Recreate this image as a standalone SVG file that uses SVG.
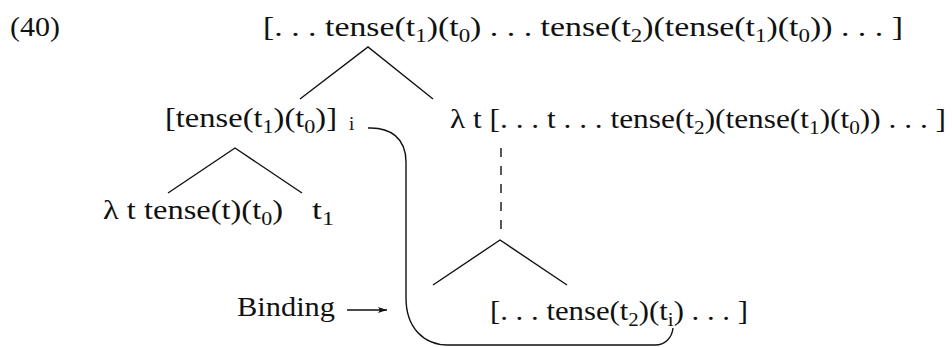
<svg xmlns="http://www.w3.org/2000/svg" width="952" height="347" viewBox="0 0 952 347">
<style>
text{font-family:"Liberation Serif","DejaVu Serif",serif;font-size:28px;fill:#111}
.sub{font-size:19px}
.edge{stroke:#111;stroke-width:1.4;fill:none}
.dash{stroke-dasharray:9 9}
</style>
<defs>
<marker id="ah" markerWidth="10" markerHeight="8" refX="9" refY="4" orient="auto" markerUnits="userSpaceOnUse">
<path d="M0,1 L9,4 L0,7 L2,4 Z" fill="#111"/>
</marker>
</defs>
<rect width="952" height="347" fill="#fff"/>
<text id="label40" x="10" y="36" textLength="50" lengthAdjust="spacingAndGlyphs">(40)</text>
<g id="root"><text x="263" y="36" textLength="640" lengthAdjust="spacingAndGlyphs">[. . . tense(t<tspan class="sub" dy="6">1</tspan><tspan dy="-6">)(t</tspan><tspan class="sub" dy="6">0</tspan><tspan dy="-6">) . . . tense(t</tspan><tspan class="sub" dy="6">2</tspan><tspan dy="-6">)(tense(t</tspan><tspan class="sub" dy="6">1</tspan><tspan dy="-6">)(t</tspan><tspan class="sub" dy="6">0</tspan><tspan dy="-6">)) . . . ]</tspan></text></g>
<g id="left"><text x="165" y="127" textLength="172" lengthAdjust="spacingAndGlyphs">[tense(t<tspan class="sub" dy="6">1</tspan><tspan dy="-6">)(t</tspan><tspan class="sub" dy="6">0</tspan><tspan dy="-6">)]</tspan></text><text class="sub" x="349" y="130">i</text></g>
<g id="right"><text x="450" y="128" textLength="496" lengthAdjust="spacingAndGlyphs">λ t [. . . t . . . tense(t<tspan class="sub" dy="6">2</tspan><tspan dy="-6">)(tense(t</tspan><tspan class="sub" dy="6">1</tspan><tspan dy="-6">)(t</tspan><tspan class="sub" dy="6">0</tspan><tspan dy="-6">)) . . . ]</tspan></text></g>
<g id="lambda"><text x="103" y="219" textLength="180" lengthAdjust="spacingAndGlyphs">λ t tense(t)(t<tspan class="sub" dy="6">0</tspan><tspan dy="-6">)</tspan></text></g>
<g id="t1"><text x="312" y="219" textLength="22" lengthAdjust="spacingAndGlyphs">t<tspan class="sub" dy="6">1</tspan></text></g>
<g id="bottom"><text x="490" y="320" textLength="258" lengthAdjust="spacingAndGlyphs">[. . . tense(t<tspan class="sub" dy="6">2</tspan><tspan dy="-6">)(t</tspan><tspan class="sub" dy="6">i</tspan><tspan dy="-6">) . . . ]</tspan></text></g>
<g id="binding"><text x="237" y="316" textLength="98" lengthAdjust="spacingAndGlyphs">Binding</text></g>
<g id="connectors">
<path class="edge" d="M300,99 L368,47 L433,99"/>
<path class="edge" d="M168,193 L235,148 L302,193"/>
<path class="edge dash" d="M501,148 L501,232"/>
<path class="edge" d="M433,285 L500,240 L567,285"/>
<path class="edge" d="M368,128 C390,127 406,138 406,162 L406,298 C406,328 424,345 448,345 L655,345 C665,345 672,338 673,328"/>
<path class="edge" d="M347,310 L387,310" marker-end="url(#ah)" stroke-width="1.1"/>
</g>
</svg>
